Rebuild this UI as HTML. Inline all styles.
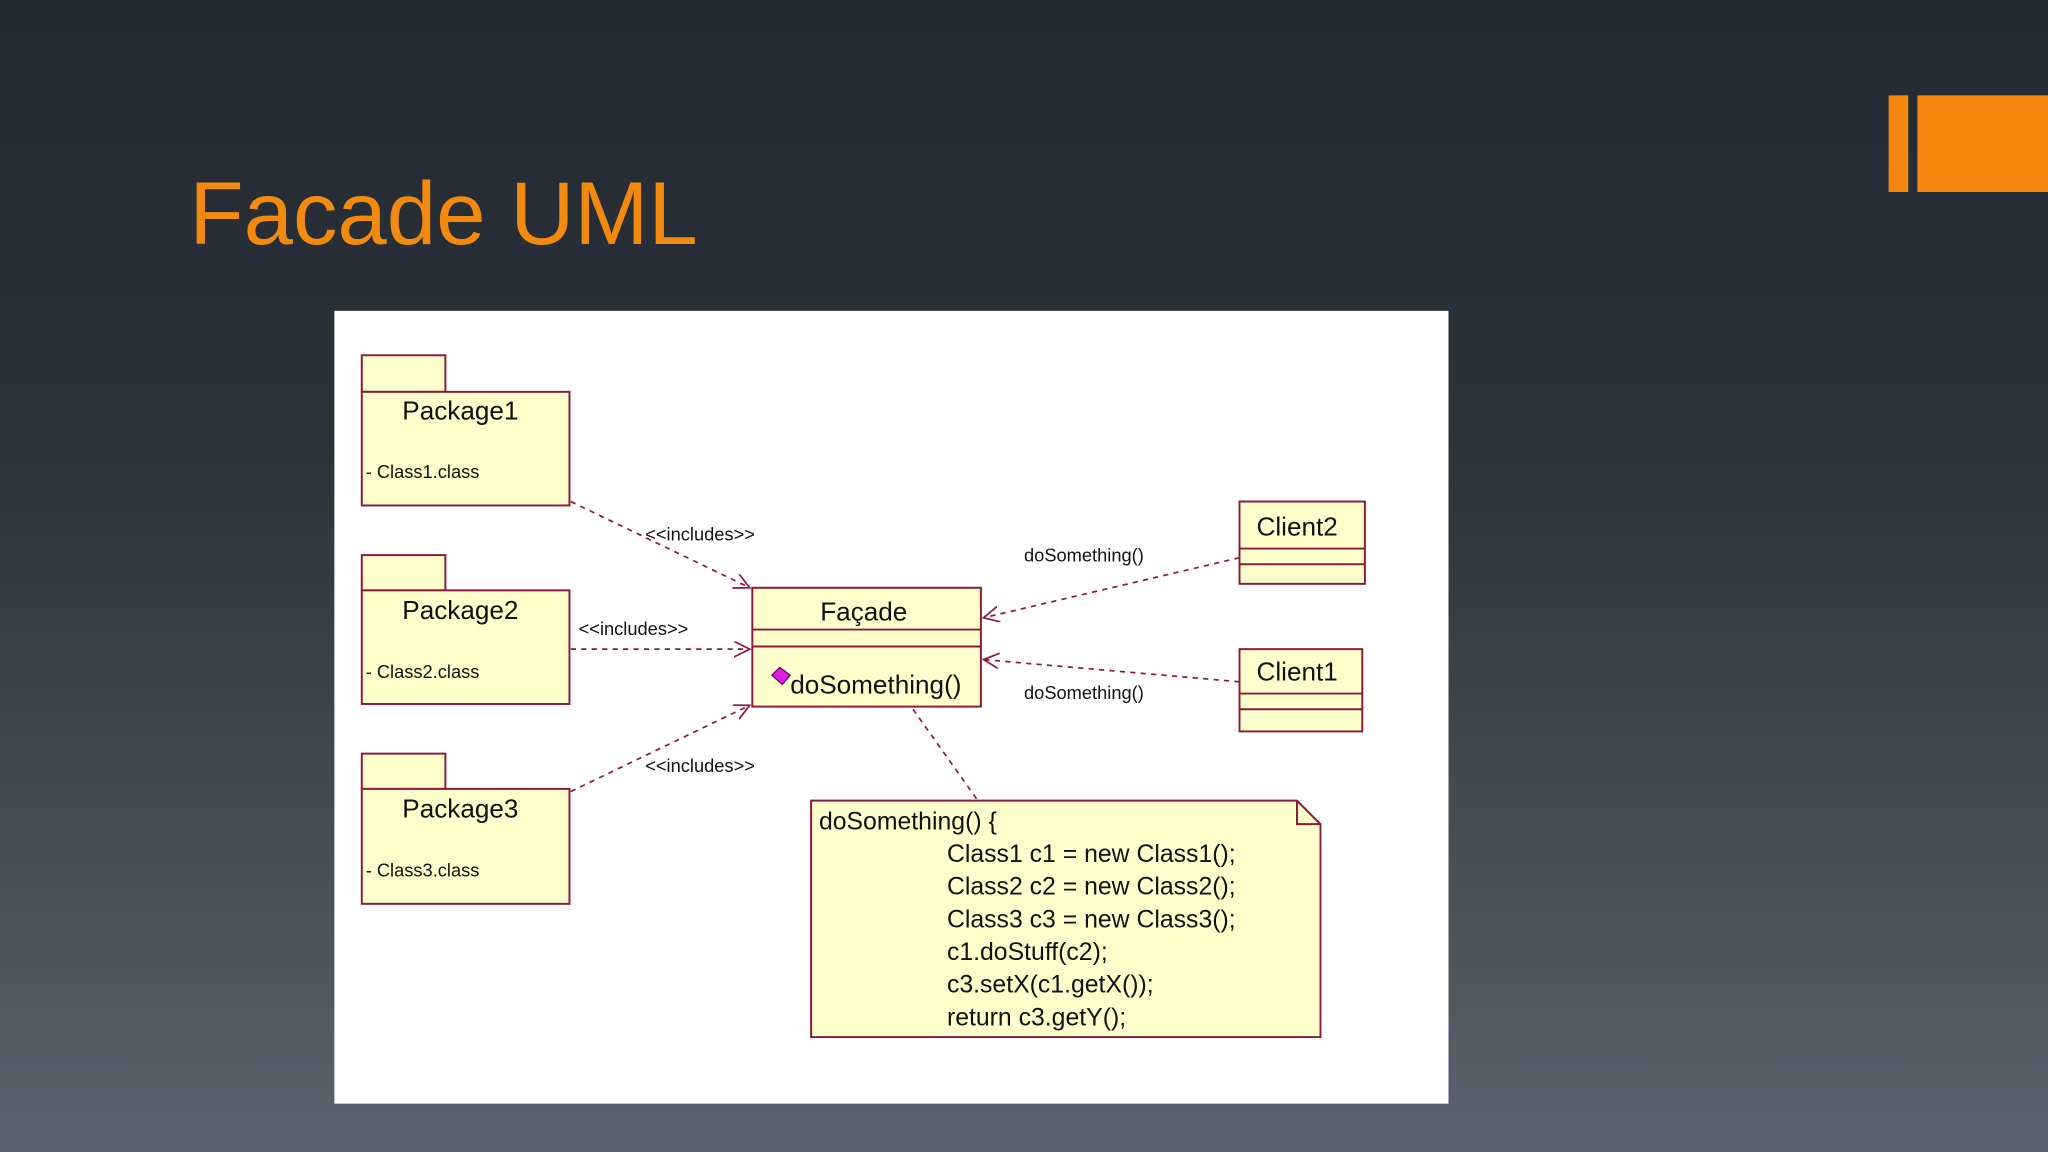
<!DOCTYPE html>
<html><head><meta charset="utf-8"><style>
html,body{margin:0;padding:0;}
body{width:2048px;height:1152px;overflow:hidden;background:linear-gradient(#242932 0%,#2c333b 40%,#5b646e 100%);}
svg{display:block}
text{font-family:"Liberation Sans",sans-serif;fill:#111}
</style></head><body>
<svg width="2048" height="1152" viewBox="0 0 1568 882" xmlns="http://www.w3.org/2000/svg">
<defs>
<marker id="a" markerWidth="14" markerHeight="14" refX="12" refY="6" orient="auto" markerUnits="userSpaceOnUse">
<path d="M0,0 L12,6 L0,12" fill="none" stroke="#8b1a3a" stroke-width="1.3"/></marker>
</defs>
<text x="145" y="187" style="font-size:68px;fill:#f28a10">Facade UML</text>
<rect x="1446" y="73" width="15" height="74" fill="#f8870f"/>
<rect x="1468" y="73" width="100" height="74" fill="#f8870f"/>
<rect x="256" y="238" width="853" height="607" fill="#fff"/>
<g fill="#ffffcc" stroke="#8b1a3a" stroke-width="1.5">
<rect x="277" y="272" width="64" height="28"/><rect x="277" y="300" width="159" height="87"/>
<rect x="277" y="425" width="64" height="27"/><rect x="277" y="452" width="159" height="87"/>
<rect x="277" y="577" width="64" height="27"/><rect x="277" y="604" width="159" height="88"/>
<rect x="576" y="450" width="175" height="91"/>
<line x1="576" y1="482" x2="751" y2="482"/><line x1="576" y1="495" x2="751" y2="495"/>
<rect x="949" y="384" width="96" height="63"/>
<line x1="949" y1="420" x2="1045" y2="420"/><line x1="949" y1="432" x2="1045" y2="432"/>
<rect x="949" y="497" width="94" height="63"/>
<line x1="949" y1="531" x2="1043" y2="531"/><line x1="949" y1="543" x2="1043" y2="543"/>
<path d="M621,613 L993,613 L1011,631 L1011,794 L621,794 Z"/>
<path d="M993,613 L993,631 L1011,631" fill="none"/>
</g>
<g stroke="#8b1a3a" stroke-width="1.3" stroke-dasharray="4,4" fill="none">
<line x1="437" y1="384" x2="574" y2="450" marker-end="url(#a)"/>
<line x1="437" y1="497" x2="574" y2="497" marker-end="url(#a)"/>
<line x1="437" y1="606" x2="574" y2="540" marker-end="url(#a)"/>
<line x1="949" y1="427" x2="753" y2="473" marker-end="url(#a)"/>
<line x1="949" y1="522" x2="753" y2="505" marker-end="url(#a)"/>
<line x1="699" y1="543" x2="748" y2="612"/>
</g>
<path d="M597,511 L605,517 L599,524 L591,517 Z" fill="#e020e0" stroke="#6a006a"/>
<g style="font-size:20px">
<text x="308" y="321">Package1</text>
<text x="308" y="474">Package2</text>
<text x="308" y="626">Package3</text>
<text x="628" y="475">Façade</text>
<text x="605" y="531">doSomething()</text>
<text x="962" y="410">Client2</text>
<text x="962" y="521">Client1</text>
</g>
<g style="font-size:14px">
<text x="280" y="366">- Class1.class</text>
<text x="280" y="519">- Class2.class</text>
<text x="280" y="671">- Class3.class</text>
<text x="494" y="414">&lt;&lt;includes&gt;&gt;</text>
<text x="443" y="486">&lt;&lt;includes&gt;&gt;</text>
<text x="494" y="591">&lt;&lt;includes&gt;&gt;</text>
<text x="784" y="430">doSomething()</text>
<text x="784" y="535">doSomething()</text>
</g>
<g style="font-size:19px">
<text x="627" y="635">doSomething() {</text>
<text x="725" y="660">Class1 c1 = new Class1();</text>
<text x="725" y="685">Class2 c2 = new Class2();</text>
<text x="725" y="710">Class3 c3 = new Class3();</text>
<text x="725" y="735">c1.doStuff(c2);</text>
<text x="725" y="760">c3.setX(c1.getX());</text>
<text x="725" y="785">return c3.getY();</text>
</g>
</svg>
</body></html>
